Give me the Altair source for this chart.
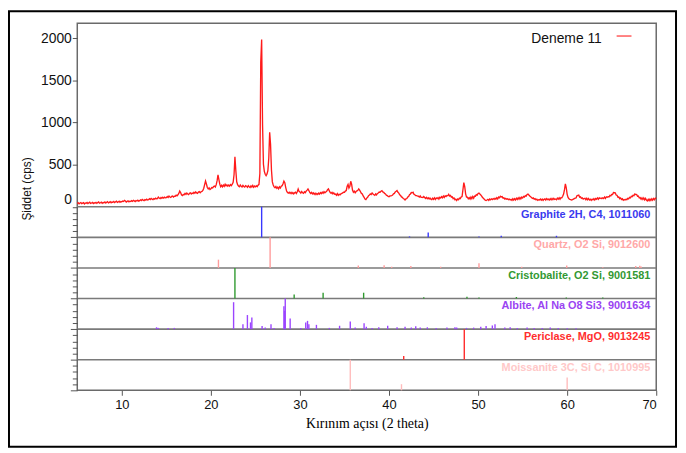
import altair as alt
import pandas as pd

# ---------------- measured pattern (counts at 2theta = degree + i/10) ----------------
first_degree = 5
intensity_rows = [
    [38, 47, 34, 44, 50, 36, 42, 48, 33, 45],
    [41, 50, 37, 46, 53, 39, 44, 51, 38, 47],
    [44, 52, 40, 49, 56, 42, 47, 55, 41, 50],
    [48, 57, 44, 54, 61, 46, 52, 60, 47, 56],
    [53, 62, 49, 59, 66, 51, 57, 65, 52, 61],
    [58, 67, 62, 76, 68, 56, 64, 70, 58, 66],
    [63, 72, 64, 76, 69, 62, 74, 68, 78, 67],
    [72, 82, 74, 86, 78, 72, 85, 79, 90, 81],
    [84, 95, 86, 99, 90, 84, 97, 91, 102, 94],
    [96, 115, 104, 97, 110, 100, 112, 102, 114, 106],
    [108, 121, 111, 126, 116, 110, 123, 128, 116, 125],
    [124, 137, 129, 142, 158, 186, 168, 142, 132, 145],
    [143, 158, 146, 162, 151, 144, 160, 166, 152, 163],
    [157, 171, 160, 176, 165, 159, 174, 180, 167, 178],
    [182, 194, 220, 262, 305, 270, 228, 212, 224, 206],
    [214, 228, 224, 240, 246, 234, 262, 310, 378, 322],
    [268, 238, 254, 236, 258, 242, 266, 248, 261, 245],
    [258, 246, 263, 250, 268, 290, 380, 592, 430, 296],
    [262, 247, 238, 258, 244, 235, 253, 241, 233, 250],
    [244, 231, 251, 238, 229, 247, 234, 253, 232, 246],
    [236, 249, 238, 255, 266, 395, 1720, 1985, 980, 505],
    [420, 386, 368, 388, 430, 575, 885, 740, 440, 295],
    [258, 236, 226, 240, 219, 233, 214, 236, 222, 244],
    [250, 274, 304, 286, 230, 186, 170, 162, 172, 158],
    [170, 155, 168, 152, 165, 172, 158, 178, 210, 182],
    [175, 162, 181, 165, 159, 178, 168, 185, 198, 212],
    [192, 170, 158, 171, 152, 165, 147, 161, 145, 158],
    [147, 163, 150, 168, 156, 173, 160, 178, 166, 175],
    [183, 202, 212, 188, 168, 160, 171, 152, 165, 148],
    [151, 137, 155, 135, 148, 140, 153, 158, 165, 172],
    [172, 186, 193, 243, 264, 222, 244, 302, 268, 198],
    [172, 185, 167, 181, 188, 195, 212, 198, 178, 158],
    [152, 128, 112, 92, 86, 102, 113, 131, 138, 153],
    [145, 163, 150, 143, 136, 152, 140, 158, 163, 175],
    [173, 185, 192, 176, 172, 158, 152, 138, 132, 122],
    [118, 128, 130, 131, 138, 153, 158, 175, 183, 193],
    [172, 162, 142, 133, 117, 112, 97, 92, 80, 93],
    [98, 115, 122, 143, 152, 168, 166, 172, 148, 142],
    [132, 131, 127, 125, 115, 128, 112, 111, 109, 121],
    [110, 98, 112, 96, 106, 92, 104, 90, 84, 101],
    [88, 106, 86, 104, 96, 108, 90, 112, 104, 120],
    [106, 126, 110, 131, 122, 134, 130, 148, 128, 134],
    [114, 118, 96, 103, 82, 90, 74, 92, 84, 102],
    [96, 116, 122, 203, 287, 238, 153, 114, 114, 94],
    [108, 92, 116, 96, 121, 102, 126, 124, 144, 139],
    [158, 162, 150, 140, 125, 110, 100, 88, 78, 75],
    [80, 88, 76, 91, 82, 94, 86, 97, 88, 100],
    [90, 108, 92, 114, 106, 124, 116, 121, 102, 106],
    [92, 99, 90, 95, 84, 91, 80, 87, 76, 94],
    [80, 96, 80, 101, 86, 106, 90, 110, 94, 114],
    [104, 121, 114, 131, 126, 146, 150, 140, 128, 118],
    [110, 98, 104, 90, 96, 82, 90, 76, 84, 80],
    [92, 78, 90, 76, 88, 94, 80, 96, 84, 90],
    [80, 96, 82, 98, 84, 100, 86, 92, 84, 102],
    [90, 106, 90, 108, 106, 125, 150, 203, 272, 223],
    [147, 110, 95, 88, 85, 80, 84, 90, 96, 102],
    [104, 131, 136, 138, 114, 118, 99, 106, 90, 98],
    [101, 84, 100, 82, 98, 80, 90, 76, 90, 82],
    [96, 80, 98, 89, 104, 88, 106, 98, 104, 96],
    [106, 98, 116, 98, 118, 112, 120, 116, 134, 129],
    [146, 144, 168, 166, 164, 139, 136, 114, 116, 96],
    [104, 86, 94, 78, 86, 80, 88, 84, 100, 94],
    [111, 106, 124, 119, 136, 132, 151, 144, 146, 124],
    [126, 104, 108, 89, 106, 86, 104, 82, 100, 80],
    [70, 88, 72, 91, 74, 94, 78, 98, 82, 101],
]
last_angle = 70.0
last_count = 96

# ---------------- reference phases (stick patterns) ----------------
phase_names = [
    "Graphite 2H, C4, 1011060",
    "Quartz, O2 Si, 9012600",
    "Cristobalite, O2 Si, 9001581",
    "Albite, Al Na O8 Si3, 9001634",
    "Periclase, MgO, 9013245",
    "Moissanite 3C, Si C, 1010995",
]
stick_colors = ["#3838ff", "#ff9c9c", "#2f9a2f", "#9b45ff", "#ff2b2b", "#ffbcbc"]
label_colors = ["#3a3aee", "#ffa8a8", "#339933", "#9a44f2", "#ff2e2e", "#ffc8c8"]

graphite_pos = [25.7, 42.3, 44.4, 50.1, 52.6, 58.8]
graphite_rel = [100, 3, 16, 3, 5, 5]
quartz_pos = [20.85, 26.65, 36.55, 39.45, 40.3, 42.45, 45.8, 50.1, 54.9, 59.95, 64.0, 67.7, 68.15, 68.3]
quartz_rel = [27, 100, 8, 9, 4, 6, 4, 15, 4, 8, 2, 6, 7, 5]
cristobalite_pos = [22.7, 29.35, 32.6, 37.15, 43.9, 48.75, 50.1, 54.3, 59.9, 64.0]
cristobalite_rel = [100, 13, 19, 19, 4, 6, 3, 5, 3, 3]
albite_pos = [13.9, 14.1, 15.2, 15.9, 22.55, 23.6, 24.1, 24.45, 24.6, 25.75, 26.1, 26.75,
              27.1, 28.2, 28.28, 28.35, 28.9, 30.1, 30.65, 30.85, 31.0, 31.85, 33.3, 34.45,
              35.65, 36.2, 37.2, 37.45, 38.1, 38.85, 39.85, 40.9, 41.8, 42.5, 43.0, 43.5,
              44.3, 45.3, 46.5, 47.4, 47.6, 48.7, 49.5, 50.3, 50.9, 51.6, 51.9, 53.0,
              53.6, 54.4, 55.5, 56.3, 57.2, 58.1, 59.0, 60.0, 61.0]
albite_rel = [6, 4, 4, 4, 88, 16, 46, 22, 38, 10, 5, 16,
              4, 75, 60, 100, 35, 4, 22, 27, 16, 14, 4, 11,
              25, 5, 19, 8, 4, 6, 11, 6, 8, 5, 9, 5,
              6, 4, 5, 6, 5, 4, 5, 8, 10, 12, 16, 5,
              6, 4, 5, 4, 4, 5, 4, 3, 3]
periclase_pos = [41.65, 48.45]
periclase_rel = [12, 100]
moissanite_pos = [35.65, 41.4, 60.0]
moissanite_rel = [100, 20, 42]

x_ticks = [10, 20, 30, 40, 50, 60, 70]
y_ticks = [0, 500, 1000, 1500, 2000]
legend_label = "Deneme 11"

# ---------------- tables ----------------
angles, counts = [], []
for r, row in enumerate(intensity_rows):
    for i, v in enumerate(row):
        angles.append(round(first_degree + r + i / 10, 1))
        counts.append(v)
angles.append(last_angle)
counts.append(last_count)
pattern = pd.DataFrame({"two_theta": angles, "counts": counts})

Y_MAX = 2180
N_PANELS = len(phase_names)
SPAN = Y_MAX / N_PANELS  # height (in y units) of one stick panel

all_pos = [graphite_pos, quartz_pos, cristobalite_pos, albite_pos, periclase_pos, moissanite_pos]
all_rel = [graphite_rel, quartz_rel, cristobalite_rel, albite_rel, periclase_rel, moissanite_rel]
stick_rows = []
for k, (ps, rs) in enumerate(zip(all_pos, all_rel)):
    for p, rr in zip(ps, rs):
        stick_rows.append({"phase": phase_names[k], "panel": k, "pos": p, "rel": rr})
sticks = pd.DataFrame(stick_rows)
labels = pd.DataFrame({"phase": phase_names, "panel": list(range(N_PANELS))})
bounds = pd.DataFrame({"panel": list(range(N_PANELS))})

W, H = 585, 371
x_scale = alt.Scale(domain=[5, 70], nice=False, zero=False)
y_scale = alt.Scale(domain=[-Y_MAX, Y_MAX], nice=False, zero=False)
color_scale = alt.Scale(domain=phase_names, range=stick_colors)
label_scale = alt.Scale(domain=phase_names, range=label_colors)

minor = [round(-(SPAN / 5) * j, 3) for j in range(1, 5 * N_PANELS + 1)]
boundary_test = "datum.value < 0 && abs(datum.value / %.4f - round(datum.value / %.4f)) < 0.01" % (SPAN, SPAN)

x_axis = alt.Axis(values=x_ticks, title="Kırınım açısı (2 theta)", zindex=1, format="d",
                  titleFont="Liberation Serif", titleFontSize=14, titleFontWeight="normal",
                  titleColor="#000", titlePadding=6,
                  labelFont="Liberation Sans", labelFontSize=13, labelColor="#111",
                  labelPadding=3, tickSize=5, tickColor="#555", domain=False, grid=False)
y_axis = alt.Axis(values=y_ticks + minor, title="Şiddet (cps)", zindex=1, format="d",
                  labelExpr="datum.value < 0 ? '' : datum.label",
                  labelBaseline={"condition": {"test": "datum.value == 0", "value": "bottom"},
                                 "value": "middle"},
                  tickSize={"condition": {"test": boundary_test, "value": 7}, "value": 5},
                  titleFont="Liberation Sans", titleFontSize=12, titleFontWeight="normal",
                  titleColor="#111", titleX=-51, titleY=167, titleAlign="center",
                  titleBaseline="middle", titleAngle=270,
                  labelFont="Liberation Sans", labelFontSize=14, labelColor="#111",
                  labelPadding=1, tickColor="#555", domain=False, grid=False)

one = pd.DataFrame({"t": [legend_label]})

frame = alt.Chart(one).mark_rect(filled=False, color="#000", strokeWidth=2).encode(
    x=alt.value(-69), x2=alt.value(W + 20), y=alt.value(-12), y2=alt.value(H + 57))

line = alt.Chart(pattern).mark_line(color="#ff1a1a", strokeWidth=1.35).encode(
    x=alt.X("two_theta:Q", scale=x_scale, axis=x_axis),
    y=alt.Y("counts:Q", scale=y_scale, axis=y_axis),
)

seps = alt.Chart(bounds).transform_calculate(
    yb=f"-datum.panel * {SPAN}"
).mark_rule(color="#7a7a7a", strokeWidth=1.6).encode(
    y=alt.Y("yb:Q", scale=y_scale, axis=y_axis)
)

stick_layer = alt.Chart(sticks).transform_calculate(
    y0=f"-(datum.panel + 1) * {SPAN}",
    y1=f"-(datum.panel + 1) * {SPAN} + datum.rel / 100 * {SPAN}",
).mark_rule(strokeWidth=1.4).encode(
    x=alt.X("pos:Q", scale=x_scale, axis=x_axis),
    y=alt.Y("y0:Q", scale=y_scale, axis=y_axis),
    y2="y1:Q",
    color=alt.Color("phase:N", scale=color_scale, legend=None),
)

label_layer = alt.Chart(labels).transform_calculate(
    yt=f"-datum.panel * {SPAN}"
).mark_text(align="right", baseline="middle", dy=8, font="Liberation Sans",
            fontSize=11, fontWeight="bold").encode(
    x=alt.value(W - 6),
    y=alt.Y("yt:Q", scale=y_scale, axis=y_axis),
    text="phase:N",
    color=alt.Color("phase:N", scale=label_scale, legend=None),
)

legend_text = alt.Chart(one).mark_text(align="right", baseline="middle", font="Liberation Sans",
                                       fontSize=14, color="#111").encode(
    x=alt.value(530), y=alt.value(16), text="t:N")
legend_line = alt.Chart(one).mark_rule(color="#ff3030", strokeWidth=1.2).encode(
    x=alt.value(545), x2=alt.value(560), y=alt.value(13))

chart = alt.layer(frame, line, seps, stick_layer, label_layer, legend_text, legend_line).resolve_scale(
    color="independent"
).properties(
    width=W, height=H,
    padding={"left": 70, "top": 13, "right": 22, "bottom": 59},
    autosize=alt.AutoSizeParams(type="none"),
    background="white",
).configure_view(stroke="#6a6a6a", strokeWidth=1.5)

chart.save("out.html", embed_options={"renderer": "svg", "actions": False})
